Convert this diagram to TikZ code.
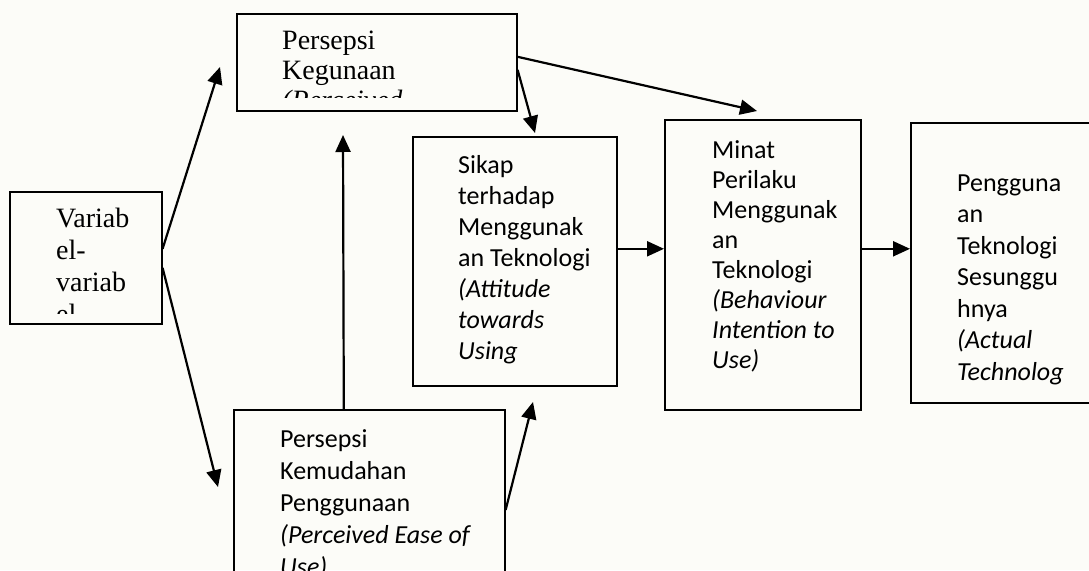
\documentclass[tikz,border=0pt]{standalone}
\usepackage{fontspec}
\setmainfont{Carlito}
\newfontfamily\serifcam{Liberation Serif}
\usetikzlibrary{arrows.meta}
\definecolor{bgc}{HTML}{FCFCF8}
\begin{document}
\begin{tikzpicture}[x=1pt,y=-1pt,
  box/.style={draw=black, line width=1.6pt, inner sep=0pt, anchor=north west},
  lbl/.style={anchor=north west, inner sep=0pt, align=left, font=\fontsize{26}{31}\selectfont},
  slbl/.style={anchor=north west, inner sep=0pt, align=left, font=\serifcam\fontsize{28}{30}\selectfont},
  arr/.style={line width=2.2pt, -{Triangle[length=17pt,width=15pt]}}]
\useasboundingbox (0,0) rectangle (1089,570);
\clip (0,0) rectangle (1089,570);
\fill[bgc] (0,0) rectangle (1089,570);

% boxes
\node[box, minimum width=280pt, minimum height=97pt]  (pk)  at (236,13)  {};
\node[box, minimum width=152pt, minimum height=132pt] (var) at (9,191)   {};
\node[box, minimum width=204pt, minimum height=249pt] (sk)  at (412,136) {};
\node[box, minimum width=196pt, minimum height=290pt] (mi)  at (664,119) {};
\node[box, minimum width=200pt, minimum height=280pt] (pe)  at (910,122) {};
\node[box, minimum width=271pt, minimum height=220pt] (km)  at (233,409) {};

% texts
\begin{scope}
  \clip (236,13) rectangle (516,97);
  \node[slbl] (pkt) at (282,29) {\rule{0pt}{20pt}Persepsi\\Kegunaan\\\textit{(Perceived}};
\end{scope}
\begin{scope}
  \clip (9,191) rectangle (161,313);
  \node[slbl, font=\serifcam\fontsize{28}{32}\selectfont] (vart) at (56,207) {\rule{0pt}{20pt}Variab\\el-\\variab\\el};
\end{scope}
\node[lbl] (skt) at (458,153) {\rule{0pt}{20pt}Sikap\\terhadap\\Menggunak\\an Teknologi\\\textit{(Attitude}\\\textit{towards}\\\textit{Using}};
\node[lbl, font=\fontsize{26}{30}\selectfont] (mit) at (712,138) {\rule{0pt}{20pt}Minat\\Perilaku\\Menggunak\\an\\Teknologi\\\textit{(Behaviour}\\\textit{Intention to}\\\textit{Use)}};
\node[lbl, font=\fontsize{26}{31.5}\selectfont] (pet) at (957,171) {\rule{0pt}{20pt}Pengguna\\an\\Teknologi\\Sesunggu\\hnya\\\textit{(Actual}\\\textit{Technolog}};
\node[lbl, font=\fontsize{26}{32}\selectfont] (kmt) at (280,427) {\rule{0pt}{20pt}Persepsi\\Kemudahan\\Penggunaan\\\textit{(Perceived Ease of}\\\textit{Use)}};

% connector tips in free space
\coordinate (t1) at (220,67);
\coordinate (t2) at (218,487);
\coordinate (t3) at (343,135);
\coordinate (t4) at (535,133);
\coordinate (t5) at (757,111);
\coordinate (t6) at (533,402);

\draw[arr] ([yshift=9pt]var.east) -- (t1);
\draw[arr] ([yshift=-10pt]var.east) -- (t2);
\draw[arr] ([xshift=-25.5pt]km.north) -- (t3);
\draw[arr] ([yshift=-7.5pt]pk.east) -- (t4);
\draw[arr] ([yshift=5.5pt]pk.east) -- (t5);
\draw[arr] ([yshift=-101pt]km.north east) -- (t6);
\draw[arr] ([yshift=12.5pt]sk.east) -- ([yshift=16pt]mi.west);
\draw[arr] ([yshift=16pt]mi.east) -- ([yshift=14pt]pe.west);
\end{tikzpicture}
\end{document}
